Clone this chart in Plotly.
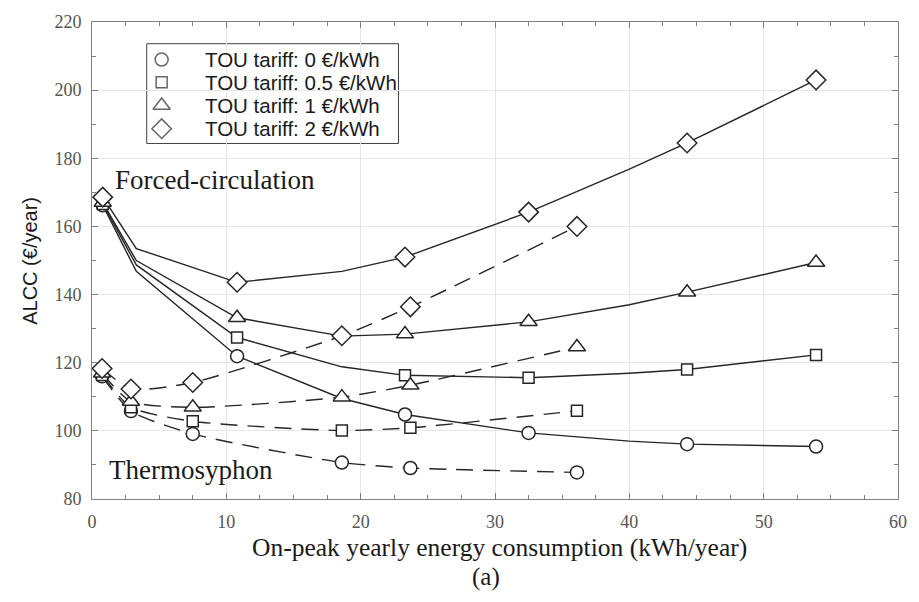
import plotly.graph_objects as go

# Time-of-use tariff levels (€/kWh) and their legend labels / symbols
legend_names = ["TOU tariff: 0 €/kWh", "TOU tariff: 0.5 €/kWh",
                "TOU tariff: 1 €/kWh", "TOU tariff: 2 €/kWh"]
symbols = ["circle", "square", "triangle-up", "diamond"]
marker_sizes = [13, 11, 15, 15]

# Forced-circulation system: marked operating points
fc_x = [0.8, 10.8, 23.3, 32.5, 44.3, 53.9]
fc_y_0 = [166.2, 121.9, 104.8, 99.4, 96.1, 95.4]
fc_y_05 = [166.6, 127.4, 116.3, 115.6, 118.0, 122.3]
fc_y_1 = [167.0, 133.2, 128.4, 132.0, 140.7, 149.4]
fc_y_2 = [168.6, 143.6, 151.0, 164.2, 184.5, 203.0]

# Forced-circulation system: full curve (includes unmarked points)
fc_curve_x = [0.8, 3.3, 10.8, 18.6, 23.3, 32.5, 40.0, 44.3, 53.9]
fc_curve_0 = [166.2, 146.8, 121.9, 109.5, 104.8, 99.4, 97.0, 96.1, 95.4]
fc_curve_05 = [166.6, 148.7, 127.4, 118.8, 116.3, 115.6, 116.9, 118.0, 122.3]
fc_curve_1 = [167.0, 150.0, 133.2, 127.8, 128.4, 132.0, 137.0, 140.7, 149.4]
fc_curve_2 = [168.6, 153.5, 143.6, 146.8, 151.0, 164.2, 176.8, 184.5, 203.0]

# Thermosyphon system
ts_x = [0.75, 2.9, 7.5, 18.6, 23.7, 36.1]
ts_y_0 = [116.0, 105.8, 99.1, 90.7, 89.1, 87.8]
ts_y_05 = [116.4, 106.9, 102.8, 100.1, 100.9, 105.9]
ts_y_1 = [116.9, 108.6, 106.9, 109.9, 113.4, 124.6]
ts_y_2 = [118.3, 112.3, 114.2, 127.9, 136.4, 160.0]

fc_marks = [fc_y_0, fc_y_05, fc_y_1, fc_y_2]
fc_curves = [fc_curve_0, fc_curve_05, fc_curve_1, fc_curve_2]
ts_marks = [ts_y_0, ts_y_05, ts_y_1, ts_y_2]

x_ticks = [0, 10, 20, 30, 40, 50, 60]
y_ticks = [80, 100, 120, 140, 160, 180, 200, 220]

LINE = "#262626"
TEXT = "#1a1a1a"
SERIF = "Liberation Serif, Times New Roman, serif"
SANS = "Liberation Sans, Arial, sans-serif"

# Plot-area geometry in pixels (used to place the boxed key)
W, H = 919, 602
L, R, T, B = 92, 17, 16, 103
PW, PH = W - L - R, H - T - B


def px_x(px):
    return (px - L) / PW


def px_y(py):
    return 1 - (py - T) / PH


fig = go.Figure()

# Curves first so markers sit on top
for ys in fc_curves:
    fig.add_trace(go.Scatter(x=fc_curve_x, y=ys, mode="lines",
                             line=dict(color=LINE, width=1.4),
                             showlegend=False, hoverinfo="skip"))
for ys in ts_marks:
    fig.add_trace(go.Scatter(x=ts_x, y=ys, mode="lines",
                             line=dict(color=LINE, width=1.4, dash="17px,10px",
                                       shape="spline", smoothing=0.6),
                             showlegend=False, hoverinfo="skip"))

for i in range(4):
    mk = dict(symbol=symbols[i], size=marker_sizes[i], color="white",
              line=dict(color=LINE, width=1.5))
    fig.add_trace(go.Scatter(x=ts_x, y=ts_marks[i], mode="markers", marker=mk,
                             showlegend=False, name=legend_names[i]))
    fig.add_trace(go.Scatter(x=fc_x, y=fc_marks[i], mode="markers", marker=mk,
                             showlegend=False, name=legend_names[i]))

# Boxed key: symbols on a pixel-unit overlay axis, labels as annotations
key_rows = [54, 77, 100.5, 124]
key_sym_x = 162
key_text_x = 204
fig.add_trace(go.Scatter(
    x=[key_sym_x - L] * 4, y=[r - T for r in key_rows],
    xaxis="x2", yaxis="y2", mode="markers", showlegend=False, hoverinfo="skip",
    marker=dict(symbol=symbols, size=marker_sizes, color="white",
                line=dict(color=LINE, width=1.5)),
))
for name, r in zip(legend_names, key_rows):
    fig.add_annotation(x=px_x(key_text_x), y=px_y(r), xref="paper", yref="paper",
                       text=name, showarrow=False, xanchor="left",
                       yanchor="middle", font=dict(family=SANS, size=20.5,
                                                   color=TEXT))
fig.add_shape(type="rect", xref="paper", yref="paper",
              x0=px_x(147), x1=px_x(400), y0=px_y(139), y1=px_y(38),
              line=dict(color="#404040", width=1), fillcolor="white",
              layer="between")

axis_common = dict(
    showline=True, linecolor="#7f7f7f", linewidth=1, mirror="ticks",
    ticks="inside", ticklen=6, tickcolor="#7f7f7f", tickwidth=1,
    showgrid=True, gridcolor="#e6e6e6", gridwidth=1, zeroline=False,
    tickfont=dict(family=SERIF, size=18, color="#555555"),
    ticklabelstandoff=6,
)

fig.update_xaxes(range=[0, 60], tickvals=x_ticks,
                 minor=dict(dtick=2.5, ticks="inside", ticklen=4,
                            tickcolor="#7f7f7f", showgrid=False),
                 **axis_common)
fig.update_yaxes(range=[80, 220], tickvals=y_ticks,
                 minor=dict(dtick=10, ticks="inside", ticklen=4,
                            tickcolor="#7f7f7f", showgrid=False),
                 **axis_common)

fig.add_annotation(x=1.55, y=173.6, xref="x", yref="y", text="Forced-circulation",
                   showarrow=False, xanchor="left", yanchor="middle",
                   font=dict(family=SERIF, size=27, color=TEXT))
fig.add_annotation(x=1.1, y=88.6, xref="x", yref="y", text="Thermosyphon",
                   showarrow=False, xanchor="left", yanchor="middle",
                   font=dict(family=SERIF, size=27, color=TEXT))
fig.add_annotation(x=px_x(502), y=px_y(548), xref="paper", yref="paper",
                   text="On-peak yearly energy consumption (kWh/year)",
                   showarrow=False, xanchor="center", yanchor="middle",
                   font=dict(family=SERIF, size=25.5, color=TEXT))
fig.add_annotation(x=px_x(488), y=px_y(578), xref="paper", yref="paper",
                   text="(a)",
                   showarrow=False, xanchor="center", yanchor="middle",
                   font=dict(family=SERIF, size=25, color=TEXT))
fig.add_annotation(x=px_x(29), y=0.5, xref="paper", yref="paper",
                   text="ALCC (€/year)", textangle=-90,
                   showarrow=False, xanchor="center", yanchor="middle",
                   font=dict(family=SANS, size=20, color=TEXT))

fig.update_layout(
    width=W, height=H,
    margin=dict(l=L, r=R, t=T, b=B),
    paper_bgcolor="white", plot_bgcolor="white",
    showlegend=False,
    xaxis2=dict(overlaying="x", range=[0, PW], visible=False, anchor="y2",
                fixedrange=True),
    yaxis2=dict(overlaying="y", range=[PH, 0], visible=False, anchor="x2",
                fixedrange=True),
)

fig.write_html("out.html")
